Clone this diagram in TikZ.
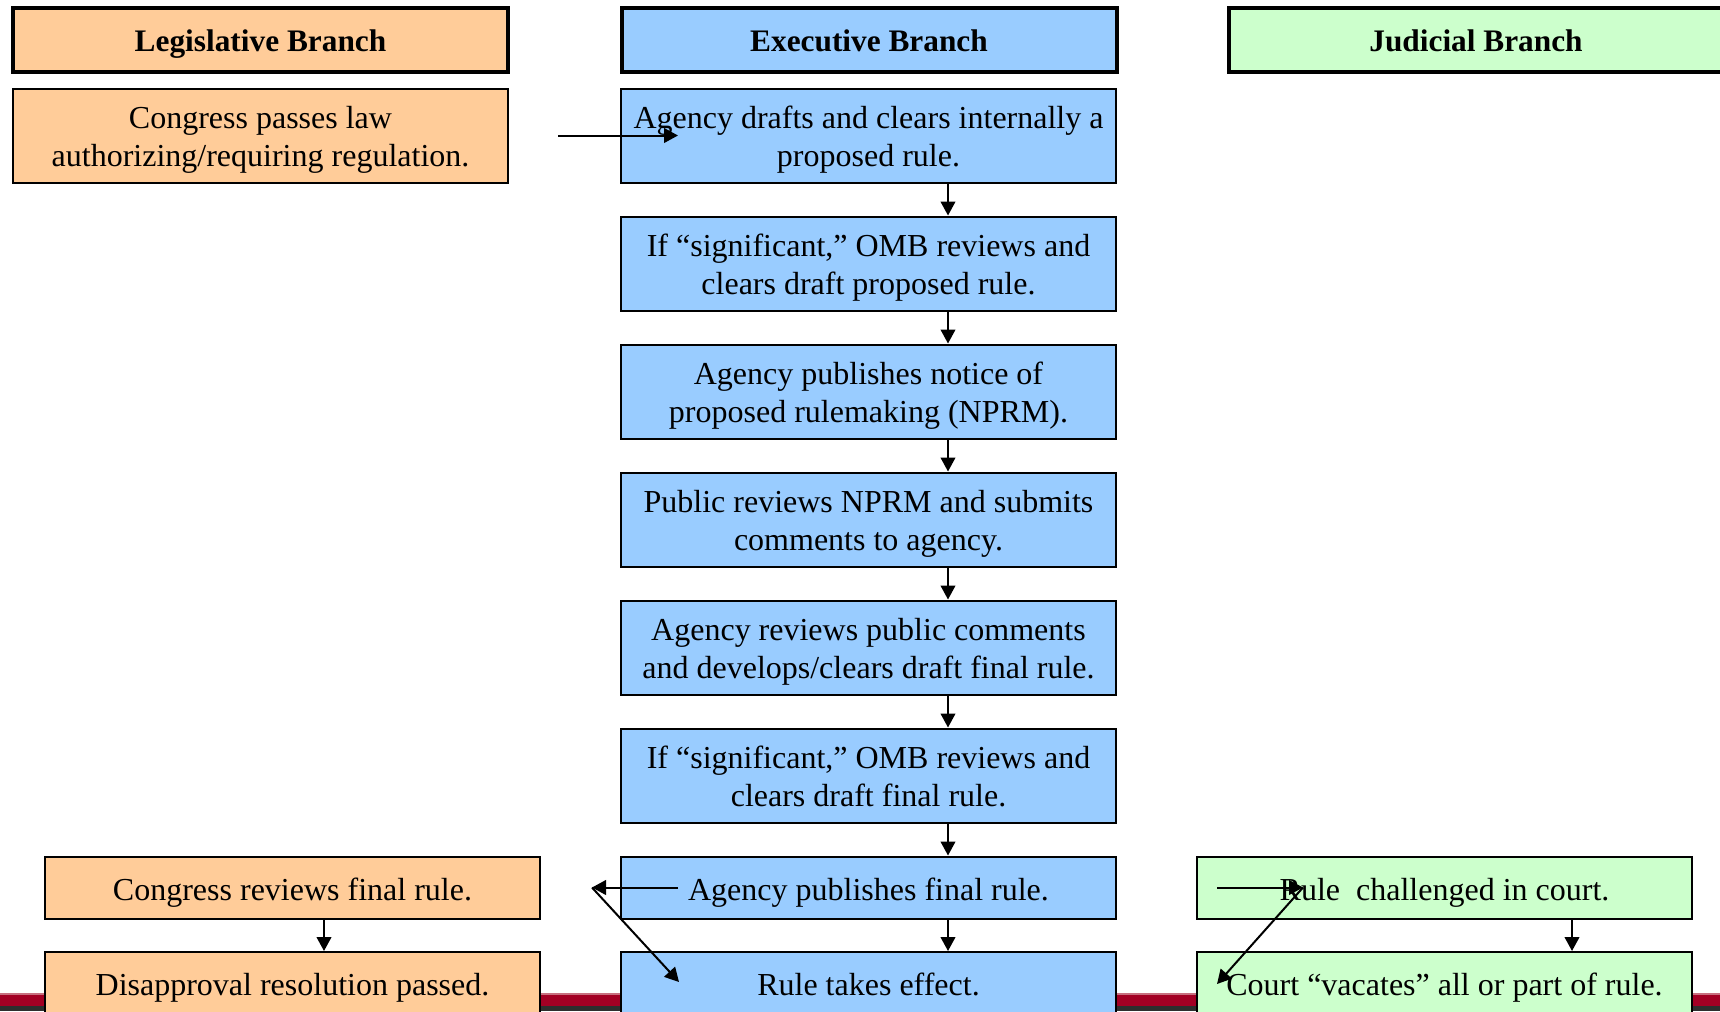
\documentclass[tikz,border=0pt]{standalone}
\usepackage{fontspec}
\setmainfont{Liberation Serif}
\usetikzlibrary{arrows.meta,calc}
\definecolor{leg}{HTML}{FFCC99}
\definecolor{exe}{HTML}{99CCFF}
\definecolor{jud}{HTML}{CCFFCC}
\definecolor{stripred}{HTML}{A30024}
\definecolor{stripdark}{HTML}{2E2E2E}
\definecolor{strippink}{HTML}{C8707F}
\newcommand{\twolines}[2]{\begin{tabular}{@{}c@{}}\rule{0pt}{26.8pt}#1\\#2\end{tabular}}
\begin{document}
\begin{tikzpicture}[x=0.75pt,y=-0.75pt,
  basebox/.style={draw=black,line width=1.5pt,minimum width=371.25pt,inner sep=0pt,
    font=\fontsize{24}{28.8}\selectfont},
  tallbox/.style={basebox,minimum height=70.5pt},
  shortbox/.style={basebox,minimum height=46.5pt,
    execute at begin node={\rule{0pt}{27.4pt}},
    execute at end node={\rule[-8.64pt]{0pt}{8.64pt}}},
  headbox/.style={draw=black,line width=3pt,minimum width=371.25pt,minimum height=48pt,inner sep=0pt,
    font=\fontsize{23.5}{28}\selectfont\bfseries,
    execute at begin node={\rule{0pt}{26.2pt}},
    execute at end node={\rule[-8.4pt]{0pt}{8.4pt}}},
  arr/.style={line width=1.5pt,-{Triangle[length=10.5pt,width=11pt]}}]
\useasboundingbox (0,0) rectangle (1720,1011);
\clip (0,0) rectangle (1720,1011);
% bottom stripe
\fill[stripred] (0,993) rectangle (1720,1006);
\fill[strippink] (0,993) rectangle (1720,994.5);
\fill[stripdark] (0,1006) rectangle (1720,1011);
% headers
\node[headbox,fill=leg] (hl) at (260.5,39.5) {Legislative Branch};
\node[headbox,fill=exe] (he) at (869,39.5) {Executive Branch};
\node[headbox,fill=jud] (hj) at (1476,39.5) {Judicial Branch};
% legislative
\node[tallbox,fill=leg] (l1) at (260.5,135.5) {\twolines{Congress passes law}{authorizing/requiring regulation.}};
\node[shortbox,fill=leg] (l7) at (292.5,887.5) {Congress reviews final rule.};
\node[shortbox,fill=leg] (l8) at (292.5,983) {Disapproval resolution passed.};
% executive
\node[tallbox,fill=exe] (e1) at (868.5,135.5) {\twolines{Agency drafts and clears internally a}{proposed rule.}};
\node[tallbox,fill=exe] (e2) at (868.5,263.5) {\twolines{If “significant,” OMB reviews and}{clears draft proposed rule.}};
\node[tallbox,fill=exe] (e3) at (868.5,391.5) {\twolines{Agency publishes notice of}{proposed rulemaking (NPRM).}};
\node[tallbox,fill=exe] (e4) at (868.5,519.5) {\twolines{Public reviews NPRM and submits}{comments to agency.}};
\node[tallbox,fill=exe] (e5) at (868.5,647.5) {\twolines{Agency reviews public comments}{and develops/clears draft final rule.}};
\node[tallbox,fill=exe] (e6) at (868.5,775.5) {\twolines{If “significant,” OMB reviews and}{clears draft final rule.}};
\node[shortbox,fill=exe] (e7) at (868.5,887.5) {Agency publishes final rule.};
\node[shortbox,fill=exe] (e8) at (868.5,983) {Rule takes effect.};
% judicial
\node[shortbox,fill=jud] (j7) at (1444.5,887.5) {Rule\ \ challenged in court.};
\node[shortbox,fill=jud] (j8) at (1444.5,983) {Court “vacates” all or part of rule.};
% vertical arrows
\foreach \a/\b in {e1/e2,e2/e3,e3/e4,e4/e5,e5/e6,e6/e7,e7/e8}
  \draw[arr] ($(\a.south)+(79.5,0)$) -- ($(\b.north)+(79.5,0)$);
\draw[arr] ($(l7.south)+(31.5,0)$) -- ($(l8.north)+(31.5,0)$);
\draw[arr] ($(j7.south)+(127.5,0)$) -- ($(j8.north)+(127.5,0)$);
% free-end arrows
\coordinate (c1s) at (558,135.5);
\coordinate (c1t) at (678,135.5);
\draw[arr] (c1s) -- (c1t);
\coordinate (c2s) at (678,887.5);
\coordinate (c2m) at (592,887.5);
\coordinate (c2t) at (679,982);
\draw[arr] (c2s) -- (c2m);
\draw[arr] (c2m) -- (c2t);
\coordinate (c3s) at (1217,887.5);
\coordinate (c3m) at (1303,887.5);
\coordinate (c3t) at (1217,984);
\draw[arr] (c3s) -- (c3m);
\draw[arr] (c3m) -- (c3t);
\end{tikzpicture}
\end{document}
